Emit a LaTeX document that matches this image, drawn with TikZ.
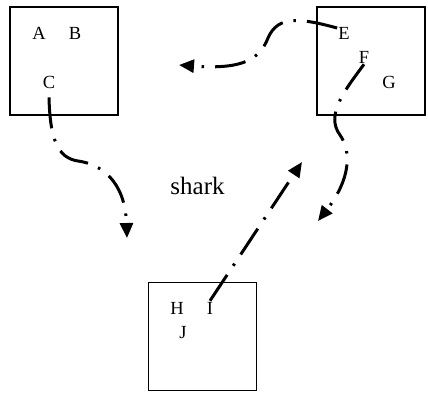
\documentclass[tikz,border=0pt]{standalone}
\usepackage{fontspec}
\setmainfont{Liberation Serif}
\usetikzlibrary{arrows.meta}
\begin{document}
\begin{tikzpicture}
  [x=1pt,y=-1pt,
   box/.style={draw=black,line width=1.3pt,minimum width=108pt,minimum height=108pt,inner sep=0pt},
   lbl/.style={inner sep=1pt,font=\fontsize{18.5}{20}\selectfont},
   flow/.style={line width=3pt,dash pattern=on 31pt off 11pt on 2.5pt off 11pt,
                -{Triangle[length=15pt,width=13pt]}}]
  \useasboundingbox (0,0) rectangle (428,392);

  \node[box] (boxl) at (64,61)   {};
  \node[box] (boxr) at (371,61)  {};
  \node[box] (boxb) at (202.5,336.5) {};

  \node[lbl] (a) at (39,33)  {A};
  \node[lbl] (b) at (75,33)  {B};
  \node[lbl] (c) at (49,82)  {C};
  \node[lbl] (e) at (344,33) {E};
  \node[lbl] (f) at (364,57) {F};
  \node[lbl] (g) at (389,82) {G};
  \node[lbl] (h) at (177,308) {H};
  \node[lbl] (i) at (210,308) {I};
  \node[lbl] (j) at (183,333) {J};

  \node[inner sep=1pt,font=\fontsize{25}{27}\selectfont] (shark) at (197.5,186) {shark};

  \coordinate (tipc) at (127,238);
  \coordinate (tipe) at (179,65);
  \coordinate (tipf) at (318,221);
  \coordinate (tipi) at (302,162);

  % the four dash-dot arrows
  \draw[flow] ([yshift=-8pt]c.south) .. controls (50,140) and (58,158) .. (78,161)
              .. controls (100,164) and (125,180) .. (tipc);
  \draw[flow] ([yshift=5pt]e.west) .. controls (300,18) and (278,15) .. (268,38)
              .. controls (260,58) and (245,70) .. (tipe);
  \draw[flow] (f.south) .. controls (345,90) and (325,115) .. (340,135)
              .. controls (352,152) and (350,180) .. (tipf);
  \draw[flow] (i.north) -- (tipi);

\end{tikzpicture}
\end{document}
